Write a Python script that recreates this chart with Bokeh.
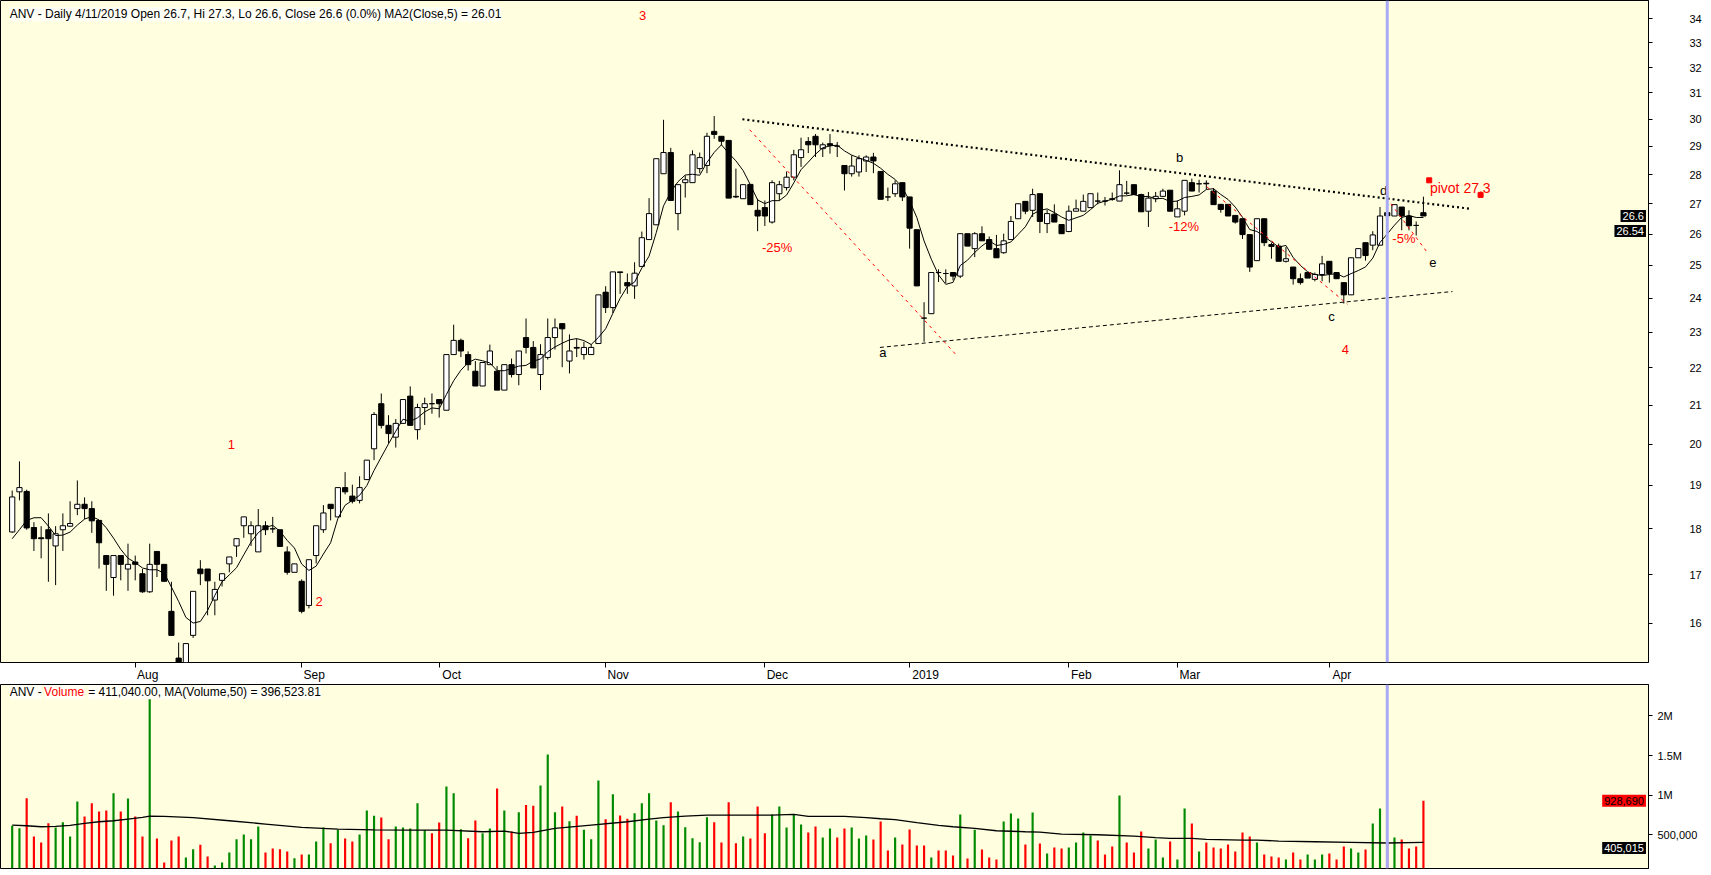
from bokeh.plotting import figure
from bokeh.models import Range1d, FixedTicker, PrintfTickFormatter, Span, Label, ColumnDataSource
from bokeh.layouts import column
from bokeh.core.properties import value
from bokeh.embed import file_html
from bokeh.resources import INLINE

FONT = "Liberation Sans"

# ---------------- data ----------------
opens = [17.93, 18.85, 18.86, 18.03, 17.80, 17.98, 17.62, 17.98, 18.06, 18.46,
         18.56, 18.46, 18.19, 17.41, 16.94, 17.41, 17.12, 17.27, 17.02, 16.64,
         17.50, 17.22, 16.24, 15.32, 15.15, 15.76, 17.12, 17.12, 16.47, 16.88,
         17.23, 17.62, 18.07, 17.89, 17.49, 18.07, 18.00, 17.98, 17.49, 17.05,
         16.86, 16.36, 17.41, 17.98, 18.56, 18.27, 18.95, 18.75, 18.65, 19.14,
         19.89, 21.04, 20.48, 20.18, 20.53, 21.24, 20.37, 20.94, 21.04, 21.15,
         20.87, 22.37, 22.77, 22.37, 21.91, 21.51, 22.09, 21.91, 21.40, 22.09,
         21.82, 22.85, 22.57, 21.82, 22.29, 22.85, 23.25, 22.19, 22.57, 22.37,
         22.37, 22.68, 24.18, 23.72, 24.80, 24.47, 24.37, 24.97, 25.82, 26.30,
         28.03, 28.78, 26.67, 27.72, 27.72, 28.21, 28.32, 29.55, 29.37, 29.22,
         27.25, 27.17, 27.66, 26.78, 26.87, 26.39, 27.34, 27.55, 27.91, 28.60,
         29.18, 29.37, 28.92, 29.10, 29.01, 28.32, 28.03, 28.09, 28.48, 28.62,
         28.11, 27.23, 27.34, 27.72, 27.23, 26.14, 23.41, 23.54, 24.78, 24.75,
         24.78, 24.67, 26.01, 25.53, 26.01, 25.82, 25.53, 25.40, 25.82, 26.50,
         27.08, 26.78, 27.34, 26.34, 26.65, 26.31, 26.08, 26.75, 26.75, 26.87,
         27.09, 27.09, 27.17, 27.09, 27.36, 27.65, 27.31, 26.75, 27.17, 27.25,
         27.46, 26.56, 26.75, 27.72, 27.68, 27.70, 27.43, 26.98, 26.98, 26.61,
         26.50, 25.98, 25.15, 26.50, 25.66, 25.61, 25.13, 24.95, 24.59, 24.78,
         24.57, 24.72, 25.13, 24.78, 24.47, 24.10, 25.24, 25.72, 25.64, 25.64,
         26.70, 26.59, 26.89, 26.59, 26.28, 26.70]
highs = [18.88, 19.58, 18.90, 18.15, 18.06, 18.35, 18.06, 18.35, 18.63, 19.12,
         18.72, 18.63, 18.19, 17.41, 17.41, 17.41, 17.67, 17.41, 17.12, 17.67,
         17.50, 17.22, 16.85, 15.62, 15.60, 16.65, 17.31, 17.12, 16.85, 17.02,
         17.38, 17.78, 18.27, 18.17, 18.45, 18.17, 18.27, 17.98, 17.61, 17.23,
         16.90, 17.32, 18.07, 18.54, 18.56, 18.95, 19.32, 19.02, 19.22, 19.61,
         20.82, 21.31, 20.74, 20.64, 21.15, 21.50, 21.04, 21.20, 21.31, 21.15,
         22.37, 23.22, 22.82, 22.46, 22.19, 22.15, 22.65, 22.05, 22.09, 22.26,
         22.47, 23.40, 22.75, 22.66, 23.40, 23.40, 23.25, 22.94, 22.82, 22.73,
         22.66, 24.10, 24.36, 24.80, 24.80, 24.75, 25.10, 26.08, 27.19, 28.56,
         29.98, 28.95, 27.65, 27.97, 28.86, 28.78, 29.50, 30.12, 29.37, 29.22,
         28.21, 27.65, 27.66, 27.17, 27.11, 27.80, 27.78, 28.11, 28.88, 29.32,
         29.34, 29.45, 29.14, 29.45, 29.16, 28.32, 28.68, 28.68, 28.68, 28.77,
         28.11, 27.55, 27.80, 27.72, 27.23, 26.14, 23.88, 24.78, 24.88, 24.88,
         24.78, 26.01, 26.01, 26.06, 26.25, 25.92, 25.97, 26.01, 26.59, 27.00,
         27.08, 27.51, 27.34, 26.80, 26.98, 26.31, 26.94, 27.14, 27.31, 27.34,
         27.38, 27.23, 27.38, 28.15, 27.78, 27.65, 27.34, 27.40, 27.40, 27.51,
         27.46, 27.11, 27.80, 27.86, 27.82, 27.80, 27.53, 26.98, 26.98, 26.61,
         26.50, 25.98, 26.50, 26.50, 25.72, 25.69, 25.58, 24.95, 24.75, 24.80,
         24.78, 25.30, 25.13, 24.78, 24.47, 25.24, 25.53, 25.72, 26.09, 26.89,
         27.30, 26.97, 26.89, 26.78, 26.41, 27.24]
lows = [17.91, 18.65, 17.98, 17.51, 17.35, 16.85, 16.78, 17.51, 18.04, 18.31,
        18.22, 17.91, 17.13, 16.66, 16.56, 16.88, 16.66, 16.88, 16.62, 16.62,
        16.95, 16.85, 15.76, 15.05, 15.05, 15.71, 16.78, 16.16, 16.16, 16.75,
        17.05, 17.38, 17.80, 17.62, 17.49, 17.86, 17.91, 17.61, 17.00, 17.05,
        16.20, 16.30, 17.24, 17.91, 18.19, 18.27, 18.79, 18.58, 18.58, 19.14,
        19.61, 20.40, 20.02, 19.92, 20.53, 20.48, 20.12, 20.49, 20.78, 20.68,
        20.87, 22.37, 22.30, 21.93, 21.51, 21.51, 22.09, 21.40, 21.40, 21.74,
        21.53, 22.40, 22.00, 21.40, 22.23, 22.51, 22.02, 21.85, 22.30, 22.23,
        22.37, 22.68, 23.56, 23.56, 24.13, 24.13, 23.98, 24.97, 25.82, 26.30,
        28.03, 27.11, 26.12, 27.21, 27.72, 28.05, 28.05, 29.28, 29.04, 27.19,
        27.19, 27.17, 26.97, 26.09, 26.26, 26.34, 27.11, 27.45, 27.80, 28.27,
        28.76, 28.62, 28.62, 28.74, 28.62, 27.45, 27.93, 27.93, 28.09, 28.05,
        27.15, 27.09, 27.23, 27.09, 25.53, 24.37, 22.73, 23.54, 24.49, 24.46,
        24.54, 24.61, 25.61, 25.26, 25.78, 25.51, 25.24, 25.37, 25.82, 26.50,
        26.65, 26.56, 26.03, 26.03, 26.39, 26.01, 26.06, 26.75, 26.75, 26.87,
        26.98, 26.94, 27.10, 27.09, 27.30, 27.31, 26.73, 26.23, 27.05, 27.25,
        26.75, 26.56, 26.61, 27.43, 27.38, 27.49, 26.97, 26.70, 26.59, 26.34,
        25.84, 24.80, 25.15, 25.61, 25.21, 25.13, 25.09, 24.41, 24.41, 24.61,
        24.51, 24.51, 24.47, 24.59, 23.84, 24.10, 25.24, 25.15, 25.48, 25.64,
        26.60, 26.59, 26.12, 26.12, 25.95, 26.59]
closes = [18.73, 18.95, 18.02, 17.78, 17.78, 17.78, 17.89, 18.07, 18.12, 18.56,
          18.46, 18.18, 17.69, 17.22, 17.41, 17.22, 17.22, 17.22, 16.64, 17.22,
          17.22, 16.86, 15.76, 15.15, 15.60, 16.65, 17.02, 16.87, 16.69, 17.02,
          17.38, 17.78, 18.27, 18.07, 18.07, 17.98, 18.00, 17.61, 17.05, 17.23,
          16.24, 17.32, 18.07, 18.36, 18.46, 18.95, 18.85, 18.63, 18.95, 19.61,
          20.76, 20.48, 20.27, 20.53, 21.15, 20.48, 20.94, 21.04, 21.04, 21.04,
          22.37, 22.77, 22.47, 22.09, 21.51, 22.15, 22.47, 21.40, 22.09, 21.82,
          22.47, 22.57, 22.00, 22.37, 22.85, 23.13, 23.10, 22.47, 22.55, 22.57,
          22.57, 24.10, 23.72, 24.80, 24.78, 24.37, 24.76, 25.88, 26.67, 28.56,
          28.78, 27.11, 27.65, 27.82, 28.70, 28.60, 29.37, 29.44, 29.19, 27.19,
          27.23, 27.65, 26.97, 26.59, 26.59, 27.72, 27.65, 27.91, 28.70, 28.88,
          29.06, 29.06, 29.06, 29.04, 29.01, 28.03, 28.30, 28.56, 28.62, 28.48,
          27.15, 27.23, 27.68, 27.23, 26.19, 24.37, 23.41, 24.78, 24.78, 24.75,
          24.67, 26.01, 25.61, 26.01, 25.78, 25.51, 25.24, 25.78, 26.41, 27.00,
          26.75, 27.31, 26.41, 26.67, 26.39, 26.01, 26.75, 26.83, 27.08, 27.34,
          27.09, 27.09, 27.15, 27.65, 27.36, 27.31, 26.73, 27.19, 27.25, 27.43,
          26.75, 26.83, 27.80, 27.43, 27.68, 27.68, 26.97, 26.81, 26.59, 26.39,
          25.98, 24.95, 26.50, 25.72, 25.60, 25.13, 25.21, 24.59, 24.47, 24.61,
          24.72, 25.05, 24.75, 24.59, 24.10, 25.24, 25.53, 25.31, 25.97, 26.59,
          26.60, 26.97, 26.59, 26.27, 26.28, 26.59]
ma5_first = [17.78, 17.98, 18.19, 18.25]   # MA line values before 5 bars exist
vol_m = [0.614, 0.584, 0.963, 0.479, 0.404, 0.647, 0.593, 0.660, 0.479, 0.921,
         0.731, 0.900, 0.794, 0.807, 1.026, 0.794, 0.958, 0.731, 0.479, 2.215,
         0.454, 0.151, 0.429, 0.479, 0.214, 0.319, 0.374, 0.227, 0.113, 0.151,
         0.277, 0.446, 0.504, 0.446, 0.605, 0.277, 0.328, 0.319, 0.290, 0.206,
         0.252, 0.252, 0.416, 0.593, 0.395, 0.563, 0.454, 0.416, 0.504, 0.807,
         0.740, 0.719, 0.446, 0.605, 0.593, 0.580, 0.900, 0.559, 0.521, 0.656,
         1.110, 1.026, 0.572, 0.458, 0.681, 0.521, 0.580, 1.084, 0.807, 0.542,
         0.786, 0.878, 0.866, 1.122, 1.513, 0.786, 0.858, 0.673, 0.740, 0.563,
         0.446, 1.185, 0.698, 1.013, 0.744, 0.702, 0.773, 0.900, 1.026, 0.681,
         0.622, 0.912, 0.794, 0.597, 0.458, 0.408, 0.723, 0.660, 0.404, 0.912,
         0.395, 0.479, 0.454, 0.858, 0.521, 0.757, 0.858, 0.593, 0.757, 0.631,
         0.530, 0.605, 0.467, 0.580, 0.467, 0.580, 0.593, 0.454, 0.492, 0.441,
         0.668, 0.303, 0.467, 0.378, 0.567, 0.366, 0.366, 0.214, 0.303, 0.303,
         0.240, 0.757, 0.202, 0.563, 0.315, 0.214, 0.189, 0.668, 0.769, 0.706,
         0.378, 0.782, 0.391, 0.265, 0.340, 0.328, 0.340, 0.404, 0.530, 0.492,
         0.429, 0.252, 0.353, 0.996, 0.404, 0.277, 0.542, 0.328, 0.441, 0.214,
         0.416, 0.189, 0.832, 0.643, 0.290, 0.404, 0.340, 0.328, 0.378, 0.290,
         0.530, 0.479, 0.404, 0.252, 0.227, 0.214, 0.189, 0.277, 0.189, 0.252,
         0.189, 0.252, 0.265, 0.189, 0.353, 0.328, 0.277, 0.315, 0.643, 0.832,
         0.411, 0.467, 0.441, 0.328, 0.353, 0.929]
vol_up = [1,1,0,0,0,0,1,1,1,1,0,0,0,0,1,0,1,0,0,1,
          0,0,0,0,1,1,0,0,1,1,1,1,1,1,1,0,0,0,0,1,
          0,1,1,1,0,1,0,0,1,1,1,0,0,1,1,1,1,1,0,0,
          1,1,1,0,0,1,1,0,1,0,1,0,0,1,1,1,0,1,0,1,
          1,1,0,1,0,0,1,1,1,1,1,0,1,1,1,1,1,0,0,0,
          0,1,0,0,0,1,1,1,1,1,0,0,1,1,0,0,1,1,1,0,
          0,0,1,0,0,0,0,1,0,0,0,1,0,1,0,0,0,1,1,1,
          0,1,0,1,0,0,1,1,1,1,0,0,0,1,0,0,0,1,1,1,
          0,1,1,0,1,0,0,0,0,0,0,0,1,0,0,0,1,0,0,1,
          1,1,0,0,0,1,1,0,1,1,0,1,0,0,0,0]
volma_idx = [0, 2, 4, 6, 8, 10, 12, 14, 16, 18, 19, 21, 25, 30, 35, 40, 45, 50, 55, 60,
             65, 68, 70, 72, 75, 80, 85, 88, 90, 93, 96, 100, 105, 108, 110, 115, 118, 120,
             122, 125, 128, 130, 133, 136, 140, 142, 145, 150, 155, 158, 160, 163, 165, 170,
             172, 175, 180, 185, 190, 195]
volma_m = [0.623, 0.615, 0.602, 0.606, 0.619, 0.644, 0.665, 0.678, 0.699, 0.720, 0.737,
           0.733, 0.716, 0.678, 0.636, 0.594, 0.573, 0.564, 0.560, 0.560, 0.539, 0.547,
           0.518, 0.531, 0.581, 0.623, 0.665, 0.699, 0.716, 0.737, 0.749, 0.749, 0.749,
           0.758, 0.733, 0.733, 0.716, 0.703, 0.691, 0.653, 0.619, 0.602, 0.581, 0.552,
           0.539, 0.535, 0.510, 0.501, 0.485, 0.464, 0.455, 0.455, 0.443, 0.434, 0.434,
           0.422, 0.413, 0.405, 0.397, 0.405]
last_volume = 928690
last_volume_ma = 405015

month_idx = [17, 40, 59, 82, 104, 124, 146, 161, 182]
month_lbl = ["Aug", "Sep", "Oct", "Nov", "Dec", "2019", "Feb", "Mar", "Apr"]
price_ticks = list(range(16, 35))
vol_ticks = [500000, 1000000, 1500000, 2000000]
vol_tick_lbl = ["500,000", "1M", "1.5M", "2M"]
selected_bar = 190

ann_x = [30.3, 42.4, 87.1, 184.2, 120.3, 161.3, 182.3, 189.5, 196.3, 105.7, 161.9, 192.3]
ann_y = [20.0, 16.45, 34.14, 22.52, 22.43, 28.62, 23.47, 27.45, 25.08, 25.57, 26.25, 25.87]
ann_t = ["1", "2", "3", "4", "a", "b", "c", "d", "e", "-25%", "-12%", "-5%"]
ann_c = ["red", "red", "red", "red", "black", "black", "black", "black", "black",
         "red", "red", "red"]
pivot_x, pivot_y, pivot_text = 195.9, 27.55, "pivot 27.3"
pivot_sq_x = [195.8, 202.9]
pivot_sq_y = [27.8, 27.3]

top_line = ([100.9, 201.5], [30.0, 26.83])
bottom_line = ([119.9, 199.0], [22.57, 24.2])
red_lines = [([101.9, 130.4], [29.61, 22.37]),
             ([165.1, 184.5], [27.57, 23.82]),
             ([190.5, 195.5], [27.0, 25.42])]

# ---------------- derived ----------------
n = len(closes)
idx = list(range(n))
ma5 = ma5_first + [sum(closes[i - 4:i + 1]) / 5 for i in range(4, n)]
up = [c > o for o, c in zip(opens, closes)]

BG = "#FFFFE0"
X_END = 226.1
BAR_PX = 1648 / (X_END + 1.617)
xr = Range1d(-1.617, X_END)

p = figure(frame_width=1648, frame_height=662, x_range=xr,
           y_range=Range1d(15.236, 34.79), y_axis_type="log",
           y_axis_location="right", output_backend="svg", toolbar_location=None,
           min_border_left=0, min_border_top=0, min_border_bottom=0, min_border_right=63)
p.background_fill_color = BG
p.border_fill_color = "white"
p.outline_line_color = "black"
p.grid.visible = False

# x axis: a short tick at each month start, its label written just to the right of it
label_w = [len(s) * 7.0 for s in month_lbl]          # approx. label widths (px)
label_pos = [m + (2 + w / 2) / BAR_PX for m, w in zip(month_idx, label_w)]
p.xaxis.ticker = FixedTicker(ticks=label_pos, minor_ticks=month_idx)
p.xaxis.major_label_overrides = {pos: l for pos, l in zip(label_pos, month_lbl)}
p.xaxis.major_label_standoff = 0
p.xaxis.major_tick_line_color = None
p.xaxis.major_tick_out = 5
p.xaxis.major_tick_in = 0
p.xaxis.minor_tick_out = 5
p.xaxis.minor_tick_in = 0
p.xaxis.minor_tick_line_color = "black"
p.xaxis.axis_line_color = None
p.xaxis.major_label_text_font = FONT
p.xaxis.major_label_text_font_size = "12px"
p.xaxis.major_label_text_color = "black"

# y axis
p.yaxis.ticker = FixedTicker(ticks=price_ticks)
p.yaxis.formatter = PrintfTickFormatter(format="%d")
p.yaxis.minor_tick_line_color = None
p.yaxis.major_tick_out = 4
p.yaxis.major_tick_in = 0
p.yaxis.major_label_standoff = 37
p.yaxis.major_label_text_font = FONT
p.yaxis.major_label_text_font_size = "11px"
p.yaxis.major_label_text_color = "black"

src = ColumnDataSource(dict(
    x=idx, o=opens, h=highs, l=lows, c=closes,
    top=[max(o, c) for o, c in zip(opens, closes)],
    bot=[min(o, c) for o, c in zip(opens, closes)],
    fill=["white" if u else "black" for u in up]))

p.segment(x0="x", y0="l", x1="x", y1="h", source=src, line_color="black", line_width=1)
p.vbar(x="x", width=0.72, top="top", bottom="bot", source=src,
       fill_color="fill", line_color="black", line_width=1)
p.line(idx, ma5, line_color="black", line_width=1)

p.line(top_line[0], top_line[1], line_color="black", line_width=2.2, line_dash="2 3")
p.line(bottom_line[0], bottom_line[1], line_color="black", line_width=1, line_dash="4 3")
for xs, ys in red_lines:
    p.line(xs, ys, line_color="red", line_width=1, line_dash="3 4")

asrc = ColumnDataSource(dict(x=ann_x, y=ann_y, t=ann_t, c=ann_c))
p.text(x="x", y="y", text="t", text_color="c", source=asrc, text_align="center",
       text_baseline="middle", text_font=value(FONT), text_font_size="13px")
p.text(x=[pivot_x], y=[pivot_y], text=[pivot_text], text_color="red", text_align="left",
       text_baseline="middle", text_font=value(FONT), text_font_size="14px")
p.scatter(pivot_sq_x, pivot_sq_y, marker="square", size=5, color="red")

p.add_layout(Span(location=selected_bar, dimension="height", line_color="#A9A9F5", line_width=3))

p.add_layout(Label(x=-0.35, y=34.5, text="ANV - Daily 4/11/2019 Open 26.7, Hi 27.3, Lo 26.6, "
                   "Close 26.6 (0.0%) MA2(Close,5) = 26.01",
                   text_font=FONT, text_font_size="12px", text_color="black",
                   text_baseline="top", background_fill_color="#FFFFF6"))

# last-value markers (kept inside the plotting area, at its right edge)
last_close = closes[-1]
last_ma = ma5[-1]
p.add_layout(Label(x=X_END - 0.35, y=last_close, text="%.1f" % last_close, text_font=FONT,
                   text_font_size="11px", text_color="white", text_baseline="middle",
                   text_align="right", background_fill_color="black", padding=2))
p.add_layout(Label(x=X_END - 0.35, y=26.1, text="%.2f" % last_ma, text_font=FONT,
                   text_font_size="11px", text_color="white", text_baseline="middle",
                   text_align="right", background_fill_color="black", padding=2))

# ---------------- volume panel ----------------
vol = [x * 1e6 for x in vol_m]
v_top = 2396000
v = figure(frame_width=1648, frame_height=184, x_range=xr, y_range=Range1d(75700, v_top),
           y_axis_location="right", x_axis_location=None, output_backend="svg",
           toolbar_location=None, min_border_left=0, min_border_top=0,
           min_border_bottom=8, min_border_right=63)
v.background_fill_color = BG
v.border_fill_color = "white"
v.outline_line_color = "black"
v.grid.visible = False
v.yaxis.ticker = FixedTicker(ticks=vol_ticks)
v.yaxis.major_label_overrides = {t: l for t, l in zip(vol_ticks, vol_tick_lbl)}
v.yaxis.minor_tick_line_color = None
v.yaxis.major_tick_out = 4
v.yaxis.major_tick_in = 0
v.yaxis.major_label_standoff = 5
v.yaxis.major_label_text_font = FONT
v.yaxis.major_label_text_font_size = "11px"
v.yaxis.major_label_text_color = "black"

vsrc = ColumnDataSource(dict(x=idx, v=vol, col=["#008A00" if u else "#FF0000" for u in vol_up]))
v.vbar(x="x", width=0.3, top="v", bottom=0, source=vsrc, fill_color="col", line_color=None)
v.line(volma_idx, [m * 1e6 for m in volma_m], line_color="black", line_width=1.3)
v.add_layout(Span(location=selected_bar, dimension="height", line_color="#A9A9F5", line_width=3))

hdr_y = 2385000
v.add_layout(Label(x=-0.35, y=hdr_y, text="ANV -", text_font=FONT, text_font_size="12px",
                   text_color="black", text_baseline="top", background_fill_color="#FFFFF6"))
v.add_layout(Label(x=4.41, y=hdr_y, text="Volume", text_font=FONT, text_font_size="12px",
                   text_color="red", text_baseline="top", background_fill_color="#FFFFF6"))
v.add_layout(Label(x=10.5, y=hdr_y, text="= 411,040.00, MA(Volume,50) = 396,523.81",
                   text_font=FONT, text_font_size="12px", text_color="black",
                   text_baseline="top", background_fill_color="#FFFFF6"))

v.add_layout(Label(x=X_END - 0.35, y=last_volume, text="{:,}".format(last_volume),
                   text_font=FONT, text_font_size="11px", text_color="black",
                   text_baseline="middle", text_align="right",
                   background_fill_color="#FF0000", padding=2))
v.add_layout(Label(x=X_END - 0.35, y=last_volume_ma - 70000,
                   text="{:,}".format(last_volume_ma), text_font=FONT,
                   text_font_size="11px", text_color="white", text_baseline="middle",
                   text_align="right", background_fill_color="black", padding=2))

layout = column(p, v, spacing=0)
open("out.html", "w").write(file_html(layout, INLINE))
